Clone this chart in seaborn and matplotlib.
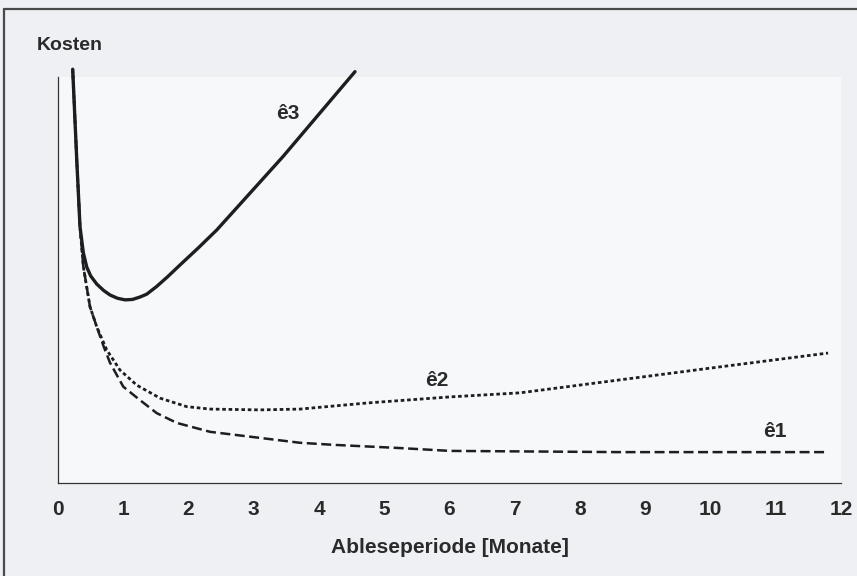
import seaborn as sns
import pandas as pd
import matplotlib.pyplot as plt
from matplotlib.lines import Line2D

# Kurvenwerte (Kosten in relativen Einheiten)
e3_monate = [0.225, 0.287, 0.337, 0.388, 0.440, 0.500, 0.593, 0.700, 0.797, 0.910, 1.027,
             1.140, 1.257, 1.359, 1.512, 1.680, 1.870, 2.150, 2.432, 2.943, 3.448, 3.965, 4.551]
e3_kosten = [101.9, 79.6, 63.1, 56.7, 53.2, 51.0, 49.0, 47.4, 46.3, 45.5, 45.1,
             45.2, 45.8, 46.5, 48.4, 50.8, 53.7, 57.9, 62.3, 71.4, 80.4, 90.2, 101.3]

e2_monate = [0.225, 0.287, 0.337, 0.388, 0.490, 0.593, 0.746, 0.950, 1.206, 1.563,
             1.972, 2.330, 3.096, 3.709, 4.736, 6.008, 7.080, 8.613, 10.146, 11.801]
e2_kosten = [101.9, 79.6, 63.1, 53.3, 43.4, 38.5, 32.8, 27.8, 24.1, 20.9,
             18.8, 18.2, 18.0, 18.2, 19.7, 21.2, 22.2, 25.4, 28.6, 32.0]

e1_monate = [0.225, 0.287, 0.337, 0.388, 0.490, 0.593, 0.700, 0.797, 1.001, 1.257,
             1.513, 1.819, 2.330, 3.096, 3.709, 4.215, 5.241, 6.008, 8.613, 11.801]
e1_kosten = [101.9, 79.6, 63.1, 53.3, 43.4, 38.5, 33.6, 29.6, 23.7, 20.4,
             17.2, 14.8, 12.6, 11.1, 9.9, 9.4, 8.6, 7.9, 7.6, 7.6]

x_ticks = list(range(0, 13))

sns.set_style("white")
plt.rcParams['font.family'] = ['Liberation Sans', 'DejaVu Sans']

fig = plt.figure(figsize=(8.57, 5.76), dpi=100, facecolor='#eef0f3')
ax = fig.add_axes([0.0677, 0.1615, 0.9137, 0.7049])
ax.set_facecolor('#f7f8f9')

ink = '#1e1e1e'
txt = '#2a2a2a'
df1 = pd.DataFrame({'x': e1_monate, 'y': e1_kosten})
df2 = pd.DataFrame({'x': e2_monate, 'y': e2_kosten})
df3 = pd.DataFrame({'x': e3_monate, 'y': e3_kosten})

sns.lineplot(data=df1, x='x', y='y', ax=ax, color=ink, lw=1.8, sort=False, clip_on=False)
ax.lines[-1].set_dashes([4, 1.8])
sns.lineplot(data=df2, x='x', y='y', ax=ax, color=ink, lw=2.0, sort=False, clip_on=False)
ax.lines[-1].set_dashes([1.3, 1.0])
sns.lineplot(data=df3, x='x', y='y', ax=ax, color=ink, lw=2.4, sort=False, clip_on=False)
for ln in ax.lines:
    ln.set_solid_joinstyle('round')
    ln.set_dash_joinstyle('round')

ax.set_xlim(0, 12)
ax.set_ylim(0, 100)
ax.set_xticks(x_ticks)
ax.set_yticks([])
ax.tick_params(axis='x', direction='out', length=6, width=0.9, color='#333333',
               labelsize=15, labelcolor=txt, pad=6)
for lab in ax.get_xticklabels():
    lab.set_fontweight('bold')

for side in ['top', 'right']:
    ax.spines[side].set_visible(False)
for side in ['left', 'bottom']:
    ax.spines[side].set_color('#333333')
    ax.spines[side].set_linewidth(0.9)

ax.set_xlabel('Ableseperiode [Monate]', fontsize=15, fontweight='bold', color=txt, labelpad=14)
ax.set_ylabel('')

fig.text(37 / 857, 1 - 45 / 576, 'Kosten', fontsize=14, fontweight='bold', color=txt,
         ha='left', va='center')

ax.text(3.52, 91.0, 'ê3', fontsize=15, fontweight='bold', color=txt, ha='center', va='center')
ax.text(5.81, 25.3, 'ê2', fontsize=15, fontweight='bold', color=txt, ha='center', va='center')
ax.text(10.99, 12.8, 'ê1', fontsize=15, fontweight='bold', color=txt, ha='center', va='center')

# Rahmen oben und links
fig.add_artist(Line2D([4 / 857, 1], [1 - 9 / 576, 1 - 9 / 576], color='#4a4a4a', lw=1.6))
fig.add_artist(Line2D([4 / 857, 4 / 857], [0, 1 - 9 / 576], color='#4a4a4a', lw=1.6))

fig.savefig('out.png', dpi=100, facecolor=fig.get_facecolor())
